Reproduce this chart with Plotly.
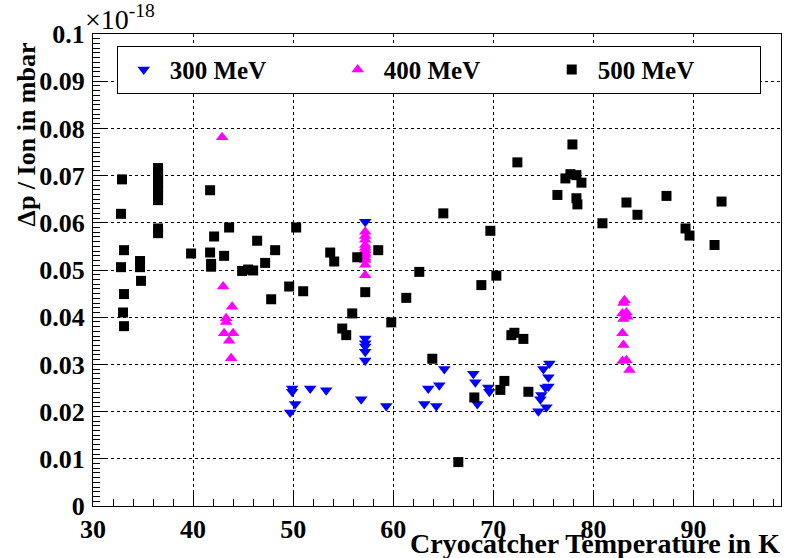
import plotly.graph_objects as go

# 300 MeV
t300 = [49.9, 49.9, 50.2, 49.7, 51.7, 53.3, 56.8, 57.2, 57.2, 57.2, 57.2, 57.2, 57.2,
        59.3, 63.1, 63.5, 64.3, 64.6, 65.1, 68.0, 68.2, 68.4, 69.5, 69.6,
        74.5, 74.7, 74.8, 75.0, 75.2, 75.3, 75.5, 75.5, 75.6]
v300 = [0.0249, 0.0242, 0.0216, 0.0198, 0.0249, 0.0245, 0.0226, 0.0602, 0.0355, 0.0345, 0.0338, 0.0327, 0.0308,
        0.0212, 0.0216, 0.0249, 0.0212, 0.0256, 0.0290, 0.0280, 0.0262, 0.0216, 0.0251, 0.0242,
        0.0201, 0.0226, 0.0235, 0.0290, 0.0251, 0.0209, 0.0253, 0.0273, 0.0302]

# 400 MeV
t400 = [42.9, 43.0, 43.9, 43.3, 43.3, 43.1, 44.0, 43.6, 43.8,
        57.2, 57.2, 57.2, 57.2, 57.2, 57.2, 57.2, 57.2, 57.2, 57.2, 57.2, 57.2,
        83.1, 83.0, 82.9, 83.3, 83.4, 83.0, 82.9, 83.0, 82.9, 83.3, 83.6]
v400 = [0.0781, 0.0465, 0.0422, 0.0398, 0.0390, 0.0366, 0.0366, 0.0350, 0.0313,
        0.0581, 0.0572, 0.0564, 0.0553, 0.0547, 0.0542, 0.0536, 0.0532, 0.0526, 0.0521, 0.0511, 0.0489,
        0.0436, 0.0430, 0.0408, 0.0410, 0.0401, 0.0396, 0.0366, 0.0341, 0.0307, 0.0309, 0.0288]

# 500 MeV
t500 = [32.9, 32.8, 33.1, 32.8, 33.1, 33.0, 33.1,
        34.7, 34.7, 34.8,
        36.5, 36.5, 36.5, 36.5, 36.5, 36.5, 36.5, 36.5, 36.5, 36.5, 36.5,
        39.8, 41.7, 42.1, 41.7, 41.8, 41.8, 43.6, 43.1,
        44.9, 45.5, 46.0, 46.4, 47.2, 48.2, 47.8,
        49.6, 50.3, 51.0, 53.7, 54.1, 54.9, 55.3, 55.9,
        56.4, 57.2, 58.5, 59.8, 61.3, 62.6, 63.9, 65.0,
        66.5, 68.1, 68.8, 69.7, 70.3, 70.7, 71.1,
        71.8, 72.1, 73.0, 72.4, 73.5,
        76.4, 77.2, 77.7, 77.9, 78.3, 78.8, 78.3, 78.4,
        80.9, 83.3, 84.4, 87.3, 89.2, 89.6, 92.1, 92.8]
v500 = [0.0692, 0.0619, 0.0542, 0.0506, 0.0449, 0.0410, 0.0381,
        0.0519, 0.0506, 0.0477,
        0.0716, 0.0708, 0.0700, 0.0692, 0.0684, 0.0676, 0.0668, 0.0658, 0.0648, 0.0588, 0.0578,
        0.0535, 0.0669, 0.0571, 0.0537, 0.0513, 0.0507, 0.0590, 0.0530,
        0.0498, 0.0501, 0.0499, 0.0562, 0.0515, 0.0542, 0.0438,
        0.0465, 0.0590, 0.0455, 0.0537, 0.0518, 0.0376, 0.0362, 0.0408,
        0.0527, 0.0453, 0.0542, 0.0389, 0.0441, 0.0496, 0.0312, 0.0620,
        0.0093, 0.0230, 0.0468, 0.0583, 0.0488, 0.0246, 0.0265,
        0.0362, 0.0367, 0.0354, 0.0728, 0.0242,
        0.0659, 0.0694, 0.0703, 0.0766, 0.0701, 0.0685, 0.0652, 0.0639,
        0.0599, 0.0643, 0.0617, 0.0657, 0.0588, 0.0573, 0.0553, 0.0645]

SERIF = "Liberation Serif"

fig = go.Figure()
fig.add_trace(go.Scatter(x=t300, y=v300, mode="markers", name="300 MeV",
                         marker=dict(symbol="triangle-down", size=11, color="#0000ff", line=dict(width=0))))
fig.add_trace(go.Scatter(x=t400, y=v400, mode="markers", name="400 MeV",
                         marker=dict(symbol="triangle-up", size=11, color="#ff00ff", line=dict(width=0))))
fig.add_trace(go.Scatter(x=t500, y=v500, mode="markers", name="500 MeV",
                         marker=dict(symbol="square", size=10, color="#000000", line=dict(width=0))))

axis_common = dict(
    showline=True, linecolor="black", linewidth=1, mirror=True,
    showgrid=True, gridcolor="black", griddash="dot", gridwidth=1,
    zeroline=False, ticks="inside", tickcolor="black",
    tickfont=dict(family=SERIF, size=26, color="black", weight="bold"),
)

fig.update_xaxes(range=[30, 98.74], dtick=10, tick0=30, ticklen=14,
                 minor=dict(dtick=2, ticks="inside", ticklen=7, tickcolor="black", showgrid=False),
                 **axis_common)
fig.update_yaxes(range=[0, 0.1], dtick=0.01, tick0=0, ticklen=14, ticklabelstandoff=2,
                 minor=dict(dtick=0.001, ticks="inside", ticklen=7, tickcolor="black", showgrid=False),
                 **axis_common)

fig.update_layout(
    width=786, height=558,
    margin=dict(l=93, r=5, t=34, b=52),
    paper_bgcolor="white", plot_bgcolor="white",
    showlegend=True,
    legend=dict(orientation="h", x=0.0345, y=0.975, xanchor="left", yanchor="top",
                bgcolor="white", bordercolor="black", borderwidth=1,
                itemwidth=42,
                entrywidth=157, entrywidthmode="pixels",
                font=dict(family=SERIF, size=25, color="black", weight="bold")),
    annotations=[
        dict(text="×10<sup>-18</sup>", xref="paper", yref="paper", x=-0.014, y=0.993,
             xanchor="left", yanchor="bottom", showarrow=False,
             font=dict(family=SERIF, size=28, color="black")),
        dict(text="Δp / Ion in mbar", xref="paper", yref="paper", x=-0.097, y=0.987,
             xanchor="center", yanchor="top", textangle=-90, showarrow=False,
             font=dict(family=SERIF, size=26, color="black", weight="bold")),
        dict(text="Cryocatcher Temperature in K", xref="paper", yref="paper", x=1.002, y=-0.079,
             xanchor="right", yanchor="middle", showarrow=False,
             font=dict(family=SERIF, size=28, color="black", weight="bold")),
    ],
)

fig.write_html("out.html")
